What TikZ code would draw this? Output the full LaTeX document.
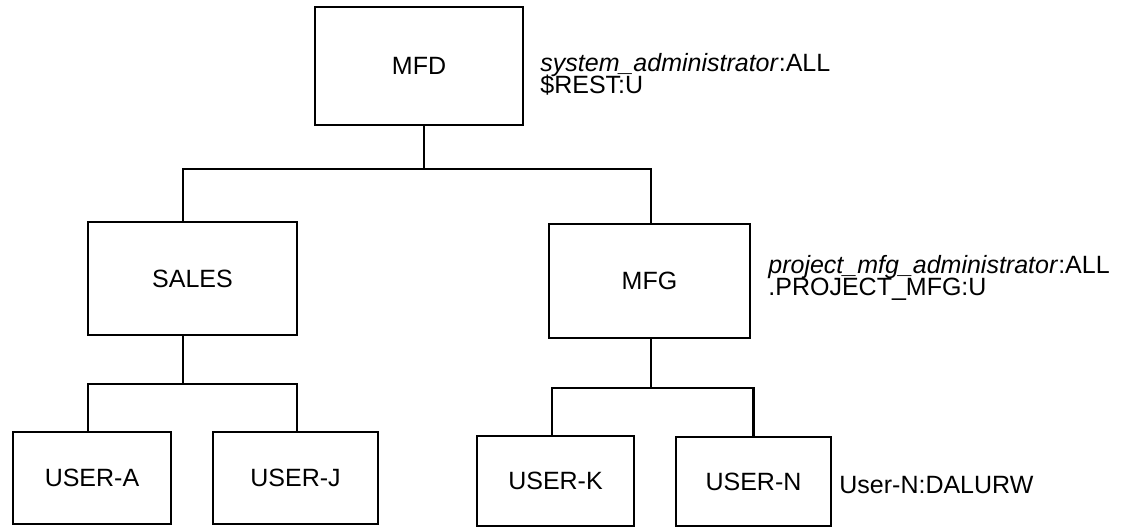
\documentclass[tikz,border=0pt]{standalone}
\usepackage{fontspec}
\setmainfont{Liberation Sans}
\usepackage{tikz}
\usetikzlibrary{positioning}

\begin{document}
\lineskiplimit=-20pt\relax
\begin{tikzpicture}[x=0.5pt, y=-0.5pt,
    dirbox/.style={draw, line width=1.35pt, inner sep=0pt,
      font=\fontsize{12.5}{15}\selectfont},
    acl/.style={inner sep=0pt, anchor=west, align=left,
      font=\fontsize{12.5}{11}\selectfont},
    link/.style={line width=1.1pt}]
  \useasboundingbox (0,0) rectangle (1134,529);
  % directory boxes
  \node[dirbox, minimum width=104pt, minimum height=59pt] (mfd) at (419,66) {MFD};
  \node[dirbox, minimum width=104.5pt, minimum height=56.5pt] (sales) at (192.5,278.5) {SALES};
  \node[dirbox, minimum width=100.5pt, minimum height=57pt] (mfg) at (649.5,281) {MFG};
  \node[dirbox, minimum width=79pt, minimum height=46pt] (usera) at (92,478) {USER-A};
  \node[dirbox, minimum width=82.5pt, minimum height=46pt] (userj) at (295.5,478) {USER-J};
  \node[dirbox, minimum width=78.5pt, minimum height=45pt] (userk) at (555.5,481) {USER-K};
  \node[dirbox, minimum width=77.5pt, minimum height=44.5pt] (usern) at (753.5,481.5) {USER-N};
  % access lists
  \node[acl] (mfdacl) at (540,74) {\textit{system\_administrator}:ALL\\\$REST:U};
  \node[acl] (mfgacl) at (768,278) {\textit{project\_mfg\_administrator}:ALL\\.PROJECT\_MFG:U};
  \node[acl] (usernacl) at (839,485) {User-N:DALURW};
  % tree lines
  \draw[link] ([xshift=2.5pt]mfd.south) -- ++(0,43) coordinate (topbus);
  \draw[link] ([xshift=-4.75pt]sales.north) |- (topbus) -| ([xshift=0.75pt]mfg.north);
  \draw[link] ([xshift=-4.75pt]sales.south) -- ++(0,48) coordinate (salesbus);
  \draw[link] ([xshift=-2pt]usera.north) |- (salesbus) -| ([xshift=0.75pt]userj.north);
  \draw[link] ([xshift=0.75pt]mfg.south) -- ++(0,49) coordinate (mfgbus);
  \draw[link] ([xshift=-1.75pt]userk.north) |- (mfgbus) -| (usern.north);
\end{tikzpicture}
\end{document}
